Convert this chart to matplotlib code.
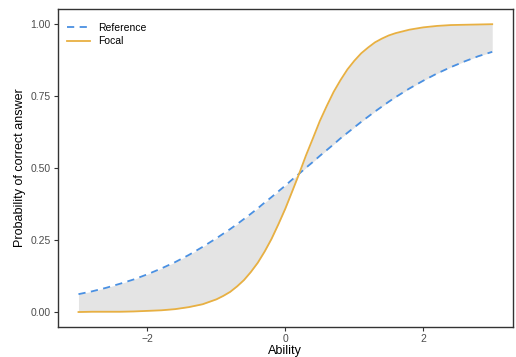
import numpy as np
import matplotlib
matplotlib.use("Agg")
import matplotlib.pyplot as plt

plt.rcParams['font.family'] = ['Liberation Sans', 'DejaVu Sans']

# values
ability = [-3.0, -2.8, -2.6, -2.4, -2.2, -2.0, -1.8, -1.6, -1.4, -1.2,
           -1.0, -0.9, -0.8, -0.7, -0.6, -0.5, -0.4, -0.3, -0.2, -0.1,
           0.0, 0.1, 0.2, 0.3, 0.4, 0.5, 0.6, 0.7, 0.8, 0.9,
           1.0, 1.1, 1.2, 1.3, 1.4, 1.5, 1.6, 1.8, 2.0, 2.2,
           2.4, 2.6, 2.8, 3.0]
p_reference = [0.062, 0.072, 0.084, 0.098, 0.113, 0.131, 0.151, 0.173, 0.198, 0.226,
               0.256, 0.272, 0.288, 0.305, 0.323, 0.341, 0.360, 0.380, 0.399, 0.419,
               0.439, 0.460, 0.480, 0.501, 0.521, 0.542, 0.562, 0.582, 0.603, 0.622,
               0.641, 0.660, 0.678, 0.696, 0.713, 0.730, 0.746, 0.776, 0.803, 0.828,
               0.850, 0.870, 0.888, 0.903]
p_focal = [0.000, 0.001, 0.001, 0.001, 0.002, 0.004, 0.006, 0.010, 0.017, 0.027,
           0.044, 0.056, 0.070, 0.089, 0.111, 0.139, 0.171, 0.210, 0.254, 0.305,
           0.359, 0.419, 0.480, 0.544, 0.603, 0.663, 0.715, 0.764, 0.805, 0.842,
           0.872, 0.898, 0.918, 0.936, 0.949, 0.960, 0.968, 0.980, 0.988, 0.993,
           0.996, 0.997, 0.998, 0.999]
xticks = [-2, 0, 2]
yticks = [0.00, 0.25, 0.50, 0.75, 1.00]

fig = plt.figure(figsize=(5.16, 3.57), dpi=100)
ax = fig.add_axes([0.112, 0.084, 0.882, 0.891])

ax.fill_between(ability, p_reference, p_focal, color="#e4e4e4", linewidth=0)
ax.plot(ability, p_reference, color="#4a90e2", linestyle=(0, (4, 3)), linewidth=1.3, label="Reference")
ax.plot(ability, p_focal, color="#e8b042", linewidth=1.3, label="Focal")

ax.set_xlim(-3.3, 3.3)
ax.set_ylim(-0.052, 1.052)
ax.set_xticks(xticks)
ax.set_xticklabels(["\u22122", "0", "2"])
ax.set_yticks(yticks)
ax.set_yticklabels(["0.00", "0.25", "0.50", "0.75", "1.00"])
ax.tick_params(direction="out", length=3, width=0.8, color="#333333",
               labelsize=7.5, labelcolor="#4d4d4d", pad=2)
for s in ax.spines.values():
    s.set_color("#333333")
    s.set_linewidth(1.0)

ax.set_xlabel("Ability", fontsize=9, labelpad=1)
ax.set_ylabel("Probability of correct answer", fontsize=9, labelpad=3)

ax.legend(loc="upper left", frameon=False, fontsize=7.5, handlelength=2.2,
          bbox_to_anchor=(0.0, 0.985), borderaxespad=0.5, labelspacing=0.3)

fig.savefig("out.png", dpi=100)
